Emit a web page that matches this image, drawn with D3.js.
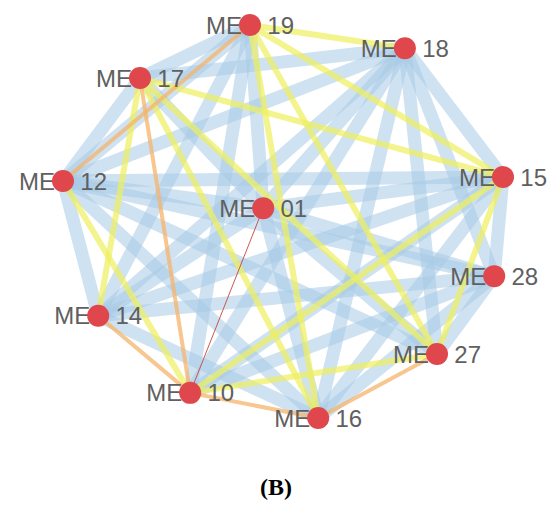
<!DOCTYPE html>
<html>
<head>
<meta charset="utf-8">
<script src="https://cdn.jsdelivr.net/npm/d3@7/dist/d3.min.js"></script>
<style>
  html, body { margin: 0; padding: 0; background: #fff; }
  svg { display: block; }
</style>
</head>
<body>
<svg id="chart" width="551" height="515"></svg>
<script>
// Gene modules (nodes) and their layout position in a unit frame
const nodeIds = ["MEG 19", "MEG 18", "MEG 17", "MEG 15", "MEG 12", "MEG 01", "MEG 28", "MEG 14", "MEG 27", "MEG 10", "MEG 16"];
const nodeX = [0.425, 0.777, 0.175, 1.000, 0.000, 0.455, 0.980, 0.080, 0.850, 0.289, 0.580];
const nodeY = [0.000, 0.059, 0.135, 0.387, 0.397, 0.466, 0.639, 0.740, 0.837, 0.936, 1.000];

// Edges: source, target, correlation class
const edgeSource = [
  "MEG 18","MEG 18","MEG 18","MEG 18","MEG 18","MEG 18","MEG 18","MEG 18","MEG 18",
  "MEG 12","MEG 12","MEG 12","MEG 12","MEG 12","MEG 12","MEG 12","MEG 12",
  "MEG 17","MEG 17","MEG 19","MEG 19","MEG 19",
  "MEG 15","MEG 15","MEG 15","MEG 15",
  "MEG 01","MEG 01","MEG 01","MEG 14","MEG 14","MEG 28","MEG 28","MEG 28","MEG 16","MEG 16",
  "MEG 19","MEG 19","MEG 19","MEG 19","MEG 17","MEG 17","MEG 17","MEG 12","MEG 10","MEG 10","MEG 27","MEG 17",
  "MEG 17","MEG 10","MEG 16","MEG 14","MEG 19",
  "MEG 01"
];
const edgeTarget = [
  "MEG 17","MEG 12","MEG 14","MEG 01","MEG 10","MEG 16","MEG 27","MEG 28","MEG 15",
  "MEG 15","MEG 28","MEG 01","MEG 27","MEG 16","MEG 14","MEG 17","MEG 19",
  "MEG 19","MEG 01","MEG 01","MEG 10","MEG 14",
  "MEG 14","MEG 01","MEG 28","MEG 10",
  "MEG 28","MEG 27","MEG 14","MEG 28","MEG 16","MEG 27","MEG 10","MEG 16","MEG 01","MEG 15",
  "MEG 18","MEG 15","MEG 27","MEG 16","MEG 15","MEG 27","MEG 16","MEG 10","MEG 15","MEG 27","MEG 15","MEG 14",
  "MEG 10","MEG 16","MEG 27","MEG 10","MEG 12",
  "MEG 10"
];
const edgeClass = [
  "blue","blue","blue","blue","blue","blue","blue","blue","blue",
  "blue","blue","blue","blue","blue","blue","blue","blue",
  "blue","blue","blue","blue","blue",
  "blue","blue","blue","blue",
  "blue","blue","blue","blue","blue","blue","blue","blue","blue","blue",
  "yellow","yellow","yellow","yellow","yellow","yellow","yellow","yellow","yellow","yellow","yellow","yellow",
  "orange","orange","orange","orange","orange",
  "red"
];

const classStyle = {
  blue:   { color: "#a7cbe6", width: 13, opacity: 0.55 },
  yellow: { color: "#eef05c", width: 6,  opacity: 0.7 },
  orange: { color: "#f6b36a", width: 4,  opacity: 0.75 },
  red:    { color: "#c9463c", width: 1,  opacity: 0.9 }
};
const classOrder = ["blue", "yellow", "orange", "red"];

const svg = d3.select("#chart");
const x = d3.scaleLinear().domain([0, 1]).range([63, 503]);
const y = d3.scaleLinear().domain([0, 1]).range([25, 418]);

const nodes = nodeIds.map((id, i) => ({ id, x: x(nodeX[i]), y: y(nodeY[i]) }));
const byId = new Map(nodes.map(n => [n.id, n]));
const edges = edgeSource.map((s, i) => ({ s: byId.get(s), t: byId.get(edgeTarget[i]), c: edgeClass[i] }))
  .sort((a, b) => classOrder.indexOf(a.c) - classOrder.indexOf(b.c));

svg.append("g").selectAll("line").data(edges).join("line")
  .attr("x1", d => d.s.x).attr("y1", d => d.s.y)
  .attr("x2", d => d.t.x).attr("y2", d => d.t.y)
  .attr("stroke", d => classStyle[d.c].color)
  .attr("stroke-width", d => classStyle[d.c].width)
  .attr("stroke-opacity", d => classStyle[d.c].opacity)
  .attr("stroke-linecap", "round");

const ng = svg.append("g").selectAll("g").data(nodes).join("g")
  .attr("transform", d => `translate(${d.x},${d.y})`);
ng.append("text")
  .attr("text-anchor", "middle")
  .attr("dy", "0.36em")
  .attr("font-family", "Liberation Sans, Arial, sans-serif")
  .attr("font-size", 24)
  .attr("fill", "#606060")
  .text(d => d.id);
ng.append("circle")
  .attr("r", 11)
  .attr("fill", "#e0474c");

svg.append("text")
  .attr("x", 276).attr("y", 495)
  .attr("text-anchor", "middle")
  .attr("font-family", "Liberation Serif, Times New Roman, serif")
  .attr("font-size", 24)
  .attr("font-weight", "bold")
  .attr("fill", "#000")
  .text("(B)");
</script>
</body>
</html>
